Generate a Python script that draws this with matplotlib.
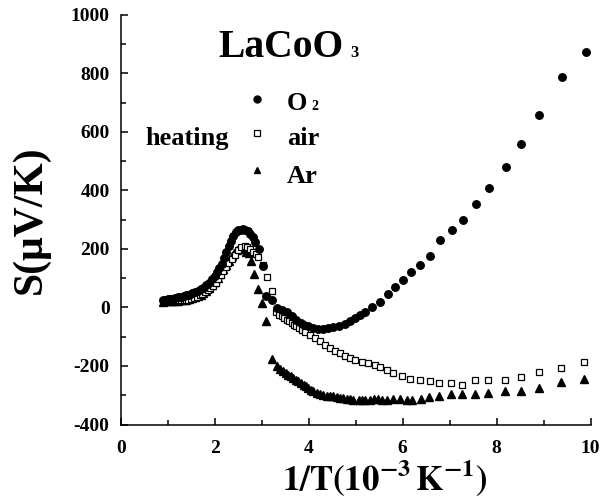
import matplotlib
matplotlib.use('Agg')
import matplotlib.pyplot as plt
from matplotlib.ticker import MultipleLocator

plt.rcParams.update({
    'font.family':        'Liberation Serif',
    'font.weight':        'bold',
    'mathtext.fontset':   'stix',
    'axes.unicode_minus': False,
    'axes.linewidth':     1.1,
})

# ── Data: thermopower S vs 1/T (heating) ──────────────────────────────────────
x_o2 = [0.90, 0.95, 1.00, 1.05, 1.10, 1.16, 1.22, 1.28, 1.34, 1.40, 1.46, 1.52,
        1.58, 1.64, 1.70, 1.76, 1.82, 1.88, 1.94, 2.00, 2.05, 2.10, 2.15, 2.20,
        2.25, 2.30, 2.35, 2.40, 2.45, 2.50, 2.55, 2.60, 2.65, 2.70, 2.75, 2.81,
        2.86, 2.95, 3.02, 3.10, 3.21, 3.32, 3.43, 3.53, 3.64, 3.74, 3.84, 3.89,
        3.99, 4.10, 4.20, 4.31, 4.42, 4.52, 4.65, 4.77, 4.88, 4.99, 5.09, 5.20,
        5.34, 5.52, 5.68, 5.84, 6.00, 6.17, 6.37, 6.58, 6.80, 7.04, 7.28, 7.56,
        7.84, 8.19, 8.52, 8.91, 9.40, 9.89]
s_o2 = [26, 27, 28, 29, 30, 32, 34, 36, 38, 41, 44, 48,
        52, 57, 62, 68, 76, 85, 96, 108, 120, 134, 150, 170,
        190, 210, 228, 245, 256, 263, 266, 267, 265, 260, 250, 239,
        225, 199, 140, 38, 26, -2, -8, -17, -31, -42, -52, -59,
        -65, -70, -73, -74, -70, -67, -62, -56, -48, -36, -27, -14,
        1, 20, 47, 70, 92, 120, 146, 174, 231, 263, 298, 353,
        407, 480, 558, 658, 786, 872]

x_air = [0.90, 0.95, 1.00, 1.05, 1.10, 1.16, 1.22, 1.28, 1.34, 1.40, 1.44, 1.50,
         1.56, 1.62, 1.68, 1.74, 1.79, 1.85, 1.91, 1.97, 2.03, 2.08, 2.13, 2.18,
         2.23, 2.29, 2.36, 2.43, 2.50, 2.57, 2.64, 2.69, 2.76, 2.82, 2.88, 2.93,
         3.03, 3.11, 3.21, 3.30, 3.37, 3.43, 3.48, 3.53, 3.59, 3.64, 3.69, 3.74,
         3.80, 3.85, 3.92, 4.03, 4.13, 4.24, 4.35, 4.45, 4.56, 4.67, 4.77, 4.88,
         4.99, 5.13, 5.27, 5.41, 5.52, 5.66, 5.80, 5.98, 6.16, 6.37, 6.58, 6.78,
         7.02, 7.26, 7.54, 7.82, 8.18, 8.52, 8.90, 9.37, 9.86]
s_air = [22, 23, 23, 24, 24, 25, 25, 26, 26, 26, 27, 30,
         33, 37, 42, 47, 52, 58, 65, 74, 85, 97, 110, 124,
         138, 152, 166, 180, 195, 206, 209, 205, 198, 191, 182, 172,
         146, 104, 55, -14, -25, -31, -37, -42, -48, -53, -59, -65,
         -71, -77, -83, -93, -105, -116, -127, -139, -148, -156, -165, -173,
         -181, -188, -190, -196, -203, -215, -224, -235, -244, -247, -252, -257,
         -257, -265, -249, -249, -249, -239, -221, -206, -188]

x_ar = [0.90, 0.95, 1.00, 1.05, 1.10, 1.16, 1.22, 1.28, 1.34, 1.40, 1.46, 1.52,
        1.58, 1.64, 1.70, 1.76, 1.82, 1.88, 1.94, 2.00, 2.06, 2.12, 2.18, 2.24,
        2.30, 2.36, 2.42, 2.48, 2.54, 2.60, 2.66, 2.72, 2.78, 2.84, 2.93, 3.01,
        3.09, 3.21, 3.32, 3.40, 3.46, 3.52, 3.57, 3.62, 3.67, 3.72, 3.78, 3.84,
        3.89, 3.94, 3.99, 4.05, 4.10, 4.17, 4.24, 4.31, 4.38, 4.45, 4.52, 4.60,
        4.67, 4.74, 4.81, 4.88, 4.95, 5.06, 5.13, 5.20, 5.30, 5.39, 5.48, 5.57,
        5.66, 5.80, 5.94, 6.09, 6.19, 6.39, 6.57, 6.78, 7.02, 7.26, 7.54, 7.82,
        8.18, 8.52, 8.90, 9.37, 9.86]
s_ar = [20, 21, 21, 22, 22, 23, 23, 24, 25, 26, 28, 31,
        35, 39, 44, 50, 57, 65, 75, 86, 100, 114, 130, 146,
        160, 174, 186, 196, 202, 200, 191, 185, 160, 115, 64, 15,
        -48, -175, -199, -210, -218, -225, -230, -236, -241, -247, -253, -259,
        -264, -270, -275, -281, -287, -291, -295, -298, -301, -302, -304, -305,
        -308, -310, -313, -314, -315, -316, -315, -316, -317, -314, -313, -316,
        -316, -314, -314, -315, -315, -312, -307, -302, -297, -297, -297, -292,
        -284, -284, -274, -256, -244]

# key positions (data coords) for the hand-drawn key
KEY_X = 2.90
KEY_Y = [712, 596, 469]

fig = plt.figure(figsize=(6.02, 5.00), dpi=100)
ax = fig.add_axes([0.2005, 0.151, 0.7807, 0.8196])

ax.plot(x_ar, s_ar, linestyle='none', marker='^', ms=5.2, color='black',
        mec='black', zorder=3)
ax.plot(x_air, s_air, linestyle='none', marker='s', ms=4.8, mfc='white',
        mec='black', mew=0.9, zorder=4)
ax.plot(x_o2, s_o2, linestyle='none', marker='o', ms=5.4, color='black',
        zorder=5)

# key
ax.plot([KEY_X], [KEY_Y[0]], marker='o', ms=5, color='black', ls='none')
ax.plot([KEY_X], [KEY_Y[1]], marker='s', ms=4, mfc='white', mec='black',
        mew=0.9, ls='none')
ax.plot([KEY_X], [KEY_Y[2]], marker='^', ms=4.5, color='black', ls='none')

ax.set_xlim(0, 10)
ax.set_ylim(-400, 1000)
ax.xaxis.set_major_locator(MultipleLocator(2))
ax.xaxis.set_minor_locator(MultipleLocator(1))
ax.yaxis.set_major_locator(MultipleLocator(200))
ax.yaxis.set_minor_locator(MultipleLocator(100))
ax.tick_params(which='both', direction='in', width=1.1)
ax.tick_params(which='major', length=5)
ax.tick_params(which='minor', length=3.5)
ax.tick_params(axis='x', pad=11, labelsize=14)
ax.tick_params(axis='y', pad=8, labelsize=14)
for lab in ax.get_xticklabels() + ax.get_yticklabels():
    lab.set_fontweight('bold')
ax.spines['top'].set_visible(False)
ax.spines['right'].set_visible(False)

# texts (small subscripts set by hand, as in the original)
fig.text(218/602, 1 - 57/500, 'LaCoO', fontsize=28.5, fontweight='bold',
         ha='left', va='baseline')
fig.text(350/602, 1 - 57/500, '3', fontsize=12, fontweight='bold',
         ha='left', va='baseline')
fig.text(287/602, 1 - 110/500, 'O', fontsize=19, fontweight='bold',
         ha='left', va='baseline')
fig.text(311/602, 1 - 110/500, '2', fontsize=10, fontweight='bold',
         ha='left', va='baseline')
fig.text(145/602, 1 - 145/500, 'heating', fontsize=19, fontweight='bold',
         ha='left', va='baseline')
fig.text(287/602, 1 - 145/500, 'air', fontsize=19, fontweight='bold',
         ha='left', va='baseline')
fig.text(287/602, 1 - 183/500, 'Ar', fontsize=19, fontweight='bold',
         ha='left', va='baseline')

fig.text(31/602, 1 - 220/500, 'S(μV/K)', fontsize=30, fontweight='bold',
         rotation=90, ha='center', va='center')
fig.text(385/602, 1 - 478/500, r'$\mathbf{1/T(10^{-3}\,K^{-1})}$',
         fontsize=25, ha='center', va='center')

fig.savefig('out.png', dpi=100, facecolor='white')
